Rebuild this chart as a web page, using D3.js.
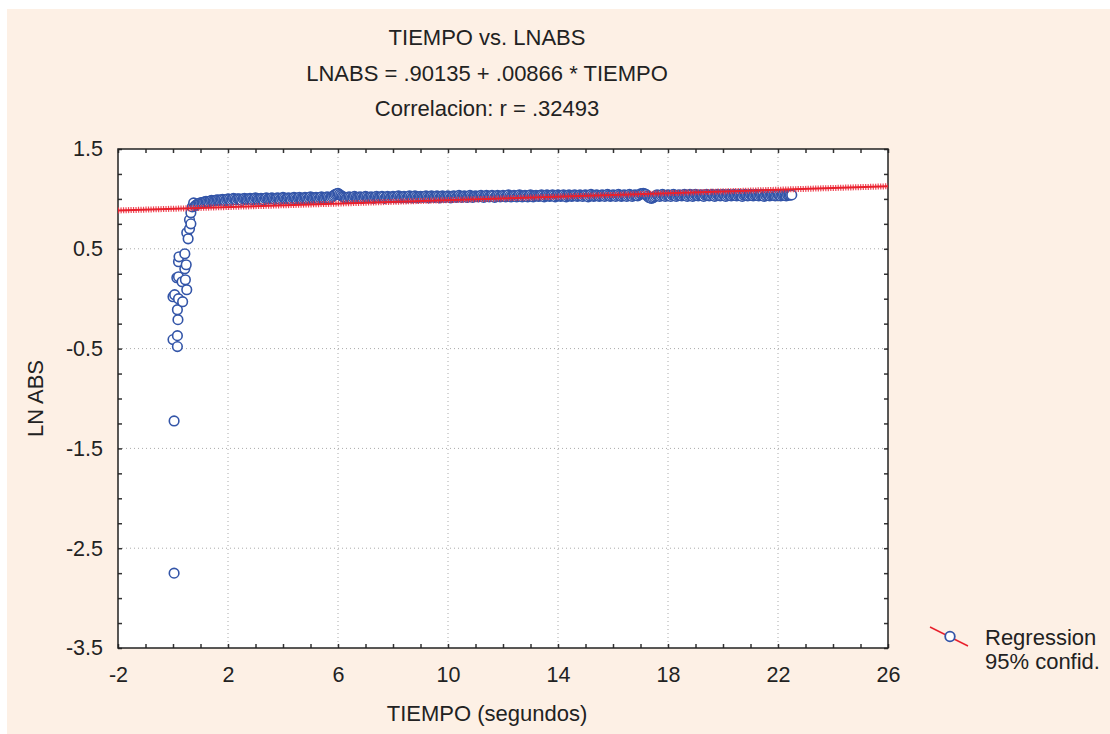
<!DOCTYPE html>
<html>
<head>
<meta charset="utf-8">
<script src="https://cdn.jsdelivr.net/npm/d3@7"></script>
<style>
  body { margin: 0; background: #fff; }
  text { font-family: "Liberation Sans", Arial, sans-serif; fill: #222; }
</style>
</head>
<body>
<div id="chart-area"></div>
<script>
// titles
const titleLines = ['TIEMPO vs. LNABS', 'LNABS = .90135 + .00866 * TIEMPO', 'Correlacion: r = .32493'];
const xLabel = 'TIEMPO (segundos)';
const yLabel = 'LN ABS';
const legendLabels = ['Regression', '95% confid.'];

// axis ticks
const xTicks = [-2, 2, 6, 10, 14, 18, 22, 26];
const yTicks = [1.5, 0.5, -0.5, -1.5, -2.5, -3.5];

// regression coefficients
const intercept = 0.90135;
const slope = 0.00866;

// first seconds (scattered points)
const tiempoInicio = [0.04, 0.04, 0.0, 0.16, 0.16, 0.18, 0.16, 0.0, 0.06, 0.35, 0.2, 0.14, 0.2, 0.5, 0.45, 0.33,
  0.2, 0.22, 0.43, 0.48, 0.43, 0.5, 0.55, 0.6, 0.65, 0.6, 0.65, 0.7, 0.75];
const lnabsInicio = [-2.75, -1.225, -0.41, -0.48, -0.37, -0.21, -0.11, 0.02, 0.04, -0.03, 0.0, 0.21, 0.22, 0.09, 0.19, 0.17,
  0.37, 0.42, 0.30, 0.34, 0.45, 0.66, 0.6, 0.7, 0.75, 0.79, 0.86, 0.92, 0.96];

// plateau, whole tenths
const tiempoMeseta = [
  0.8, 0.9, 1.0, 1.1, 1.2, 1.3, 1.4, 1.5, 1.6, 1.7,
  1.8, 1.9, 2.0, 2.1, 2.2, 2.3, 2.4, 2.5, 2.6, 2.7,
  2.8, 2.9, 3.0, 3.1, 3.2, 3.3, 3.4, 3.5, 3.6, 3.7,
  3.8, 3.9, 4.0, 4.1, 4.2, 4.3, 4.4, 4.5, 4.6, 4.7,
  4.8, 4.9, 5.0, 5.1, 5.2, 5.3, 5.4, 5.5, 5.6, 5.7,
  5.8, 5.9, 6.0, 6.1, 6.2, 6.3, 6.4, 6.5, 6.6, 6.7,
  6.8, 6.9, 7.0, 7.1, 7.2, 7.3, 7.4, 7.5, 7.6, 7.7,
  7.8, 7.9, 8.0, 8.1, 8.2, 8.3, 8.4, 8.5, 8.6, 8.7,
  8.8, 8.9, 9.0, 9.1, 9.2, 9.3, 9.4, 9.5, 9.6, 9.7,
  9.8, 9.9, 10.0, 10.1, 10.2, 10.3, 10.4, 10.5, 10.6, 10.7,
  10.8, 10.9, 11.0, 11.1, 11.2, 11.3, 11.4, 11.5, 11.6, 11.7,
  11.8, 11.9, 12.0, 12.1, 12.2, 12.3, 12.4, 12.5, 12.6, 12.7,
  12.8, 12.9, 13.0, 13.1, 13.2, 13.3, 13.4, 13.5, 13.6, 13.7,
  13.8, 13.9, 14.0, 14.1, 14.2, 14.3, 14.4, 14.5, 14.6, 14.7,
  14.8, 14.9, 15.0, 15.1, 15.2, 15.3, 15.4, 15.5, 15.6, 15.7,
  15.8, 15.9, 16.0, 16.1, 16.2, 16.3, 16.4, 16.5, 16.6, 16.7,
  16.8, 16.9, 17.0, 17.1, 17.2, 17.3, 17.4, 17.5, 17.6, 17.7,
  17.8, 17.9, 18.0, 18.1, 18.2, 18.3, 18.4, 18.5, 18.6, 18.7,
  18.8, 18.9, 19.0, 19.1, 19.2, 19.3, 19.4, 19.5, 19.6, 19.7,
  19.8, 19.9, 20.0, 20.1, 20.2, 20.3, 20.4, 20.5, 20.6, 20.7,
  20.8, 20.9, 21.0, 21.1, 21.2, 21.3, 21.4, 21.5, 21.6, 21.7,
  21.8, 21.9, 22.0, 22.1, 22.2, 22.3, 22.4, 22.5];
const lnabsMeseta = [
  0.93, 0.95, 0.96, 0.965, 0.975, 0.97, 0.985, 0.98, 0.99, 0.985,
  0.995, 0.98, 1.0, 0.985, 1.005, 0.99, 1.0, 0.985, 1.005, 0.995,
  1.005, 0.99, 1.01, 0.995, 1.005, 0.99, 1.01, 1.0, 1.01, 0.995,
  1.01, 0.995, 1.015, 1.0, 1.01, 0.995, 1.015, 1.0, 1.015, 1.0,
  1.015, 1.0, 1.02, 1.005, 1.015, 1.0, 1.02, 1.005, 1.02, 1.005,
  1.025, 1.045, 1.055, 1.035, 1.02, 1.005, 1.02, 1.005, 1.025, 1.01,
  1.02, 1.005, 1.025, 1.01, 1.02, 1.005, 1.025, 1.01, 1.025, 1.005,
  1.025, 1.01, 1.025, 1.01, 1.03, 1.01, 1.025, 1.01, 1.03, 1.01,
  1.03, 1.01, 1.025, 1.015, 1.03, 1.01, 1.03, 1.015, 1.03, 1.01,
  1.03, 1.015, 1.03, 1.01, 1.03, 1.015, 1.035, 1.015, 1.03, 1.015,
  1.035, 1.015, 1.03, 1.02, 1.035, 1.015, 1.035, 1.02, 1.035, 1.015,
  1.035, 1.02, 1.035, 1.02, 1.04, 1.02, 1.035, 1.02, 1.04, 1.02,
  1.035, 1.02, 1.04, 1.02, 1.035, 1.025, 1.04, 1.02, 1.04, 1.025,
  1.04, 1.02, 1.04, 1.025, 1.04, 1.02, 1.04, 1.025, 1.04, 1.025,
  1.04, 1.025, 1.04, 1.02, 1.045, 1.025, 1.04, 1.025, 1.04, 1.025,
  1.045, 1.025, 1.04, 1.025, 1.045, 1.025, 1.04, 1.025, 1.045, 1.025,
  1.04, 1.03, 1.05, 1.055, 1.045, 1.015, 1.005, 1.02, 1.04, 1.025,
  1.045, 1.025, 1.04, 1.025, 1.045, 1.025, 1.04, 1.03, 1.045, 1.025,
  1.045, 1.025, 1.045, 1.03, 1.04, 1.025, 1.045, 1.03, 1.045, 1.025,
  1.045, 1.03, 1.045, 1.025, 1.045, 1.03, 1.045, 1.03, 1.045, 1.025,
  1.045, 1.03, 1.045, 1.03, 1.045, 1.03, 1.045, 1.025, 1.045, 1.03,
  1.045, 1.03, 1.045, 1.03, 1.045, 1.03, 1.04, 1.04];

// plateau, half tenths
const tiempoMedio = [
  0.85, 0.95, 1.05, 1.15, 1.25, 1.35, 1.45, 1.55, 1.65, 1.75,
  1.85, 1.95, 2.05, 2.15, 2.25, 2.35, 2.45, 2.55, 2.65, 2.75,
  2.85, 2.95, 3.05, 3.15, 3.25, 3.35, 3.45, 3.55, 3.65, 3.75,
  3.85, 3.95, 4.05, 4.15, 4.25, 4.35, 4.45, 4.55, 4.65, 4.75,
  4.85, 4.95, 5.05, 5.15, 5.25, 5.35, 5.45, 5.55, 5.65, 5.75,
  5.85, 5.95, 6.05, 6.15, 6.25, 6.35, 6.45, 6.55, 6.65, 6.75,
  6.85, 6.95, 7.05, 7.15, 7.25, 7.35, 7.45, 7.55, 7.65, 7.75,
  7.85, 7.95, 8.05, 8.15, 8.25, 8.35, 8.45, 8.55, 8.65, 8.75,
  8.85, 8.95, 9.05, 9.15, 9.25, 9.35, 9.45, 9.55, 9.65, 9.75,
  9.85, 9.95, 10.05, 10.15, 10.25, 10.35, 10.45, 10.55, 10.65, 10.75,
  10.85, 10.95, 11.05, 11.15, 11.25, 11.35, 11.45, 11.55, 11.65, 11.75,
  11.85, 11.95, 12.05, 12.15, 12.25, 12.35, 12.45, 12.55, 12.65, 12.75,
  12.85, 12.95, 13.05, 13.15, 13.25, 13.35, 13.45, 13.55, 13.65, 13.75,
  13.85, 13.95, 14.05, 14.15, 14.25, 14.35, 14.45, 14.55, 14.65, 14.75,
  14.85, 14.95, 15.05, 15.15, 15.25, 15.35, 15.45, 15.55, 15.65, 15.75,
  15.85, 15.95, 16.05, 16.15, 16.25, 16.35, 16.45, 16.55, 16.65, 16.75,
  16.85, 16.95, 17.05, 17.15, 17.25, 17.35, 17.45, 17.55, 17.65, 17.75,
  17.85, 17.95, 18.05, 18.15, 18.25, 18.35, 18.45, 18.55, 18.65, 18.75,
  18.85, 18.95, 19.05, 19.15, 19.25, 19.35, 19.45, 19.55, 19.65, 19.75,
  19.85, 19.95, 20.05, 20.15, 20.25, 20.35, 20.45, 20.55, 20.65, 20.75,
  20.85, 20.95, 21.05, 21.15, 21.25, 21.35, 21.45, 21.55, 21.65, 21.75,
  21.85, 21.95, 22.05, 22.15, 22.25, 22.35, 22.45];
const lnabsMedio = [
  0.94, 0.955, 0.962, 0.97, 0.972, 0.978, 0.982, 0.985, 0.988, 0.99,
  0.99, 0.992, 0.995, 0.995, 0.998, 1.0, 0.995, 1.0, 0.998, 1.0,
  1.0, 1.0, 1.002, 1.0, 1.0, 1.005, 1.0, 1.005, 1.002, 1.005,
  1.005, 1.005, 1.008, 1.005, 1.005, 1.008, 1.008, 1.008, 1.005, 1.008,
  1.01, 1.008, 1.01, 1.012, 1.01, 1.012, 1.01, 1.012, 1.015, 1.015,
  1.035, 1.05, 1.045, 1.025, 1.012, 1.012, 1.015, 1.015, 1.015, 1.015,
  1.015, 1.015, 1.018, 1.015, 1.015, 1.018, 1.015, 1.018, 1.018, 1.015,
  1.018, 1.018, 1.02, 1.018, 1.02, 1.02, 1.018, 1.02, 1.02, 1.02,
  1.02, 1.022, 1.02, 1.022, 1.02, 1.022, 1.022, 1.02, 1.022, 1.022,
  1.022, 1.025, 1.022, 1.022, 1.025, 1.022, 1.025, 1.025, 1.022, 1.025,
  1.025, 1.025, 1.025, 1.028, 1.025, 1.025, 1.028, 1.025, 1.028, 1.025,
  1.028, 1.028, 1.028, 1.03, 1.028, 1.028, 1.03, 1.028, 1.03, 1.03,
  1.03, 1.03, 1.03, 1.032, 1.03, 1.03, 1.032, 1.03, 1.032, 1.032,
  1.032, 1.03, 1.032, 1.032, 1.03, 1.032, 1.032, 1.032, 1.035, 1.032,
  1.032, 1.035, 1.032, 1.032, 1.035, 1.032, 1.035, 1.032, 1.035, 1.035,
  1.035, 1.032, 1.035, 1.035, 1.035, 1.032, 1.035, 1.035, 1.035, 1.035,
  1.035, 1.04, 1.052, 1.05, 1.03, 1.01, 1.012, 1.03, 1.035, 1.035,
  1.035, 1.035, 1.035, 1.038, 1.035, 1.035, 1.035, 1.038, 1.035, 1.035,
  1.038, 1.035, 1.035, 1.038, 1.035, 1.038, 1.035, 1.035, 1.038, 1.035,
  1.038, 1.035, 1.038, 1.035, 1.038, 1.038, 1.035, 1.038, 1.035, 1.038,
  1.038, 1.035, 1.038, 1.038, 1.035, 1.038, 1.038, 1.035, 1.038, 1.038,
  1.038, 1.035, 1.038, 1.038, 1.035, 1.038, 1.038];

const W = 1110, H = 734;
const margins = { left: 118, top: 149, right: 222, bottom: 86 };
const width = W - margins.left - margins.right;
const height = H - margins.top - margins.bottom;

const blue = '#3355a8';
const red = '#e8202c';
const fontFamily = '"Liberation Sans", Arial, sans-serif';

const root = d3.select('#chart-area')
  .append('svg')
  .attr('width', W)
  .attr('height', H);

// peach background
root.append('rect')
  .attr('x', 7).attr('y', 9)
  .attr('width', W - 7).attr('height', H - 9)
  .attr('fill', '#fdf0e5');

const svg = root.append('g')
  .attr('transform', `translate(${margins.left}, ${margins.top})`);

const x = d3.scaleLinear().domain([-2, 26]).range([0, width]);
const y = d3.scaleLinear().domain([-3.5, 1.5]).range([height, 0]);

svg.append('rect')
  .attr('width', width).attr('height', height)
  .attr('fill', '#fff');

// dotted grid
svg.append('g').selectAll('line')
  .data(xTicks.slice(1, -1))
  .join('line')
  .attr('x1', d => x(d)).attr('x2', d => x(d))
  .attr('y1', 0).attr('y2', height)
  .attr('stroke', '#aaa').attr('stroke-dasharray', '1,3');
svg.append('g').selectAll('line')
  .data(yTicks.slice(1, -1))
  .join('line')
  .attr('y1', d => y(d)).attr('y2', d => y(d))
  .attr('x1', 0).attr('x2', width)
  .attr('stroke', '#aaa').attr('stroke-dasharray', '1,3');

// inward ticks on all sides
const xMinor = d3.range(-2, 27, 1);
const yMinor = d3.range(-3.5, 1.51, 0.25);
const tickAxis = (axis, transform) => {
  const g = svg.append('g')
    .attr('transform', transform)
    .call(axis);
  g.select('.domain').remove();
  g.selectAll('line').attr('stroke', '#333').attr('stroke-width', 1.5);
};
tickAxis(d3.axisBottom(x).tickValues(xMinor).tickSize(-4).tickFormat(''), `translate(0, ${height})`);
tickAxis(d3.axisTop(x).tickValues(xMinor).tickSize(-4).tickFormat(''), 'translate(0, 0)');
tickAxis(d3.axisLeft(y).tickValues(yMinor).tickSize(-4).tickFormat(''), 'translate(0, 0)');
tickAxis(d3.axisRight(y).tickValues(yMinor).tickSize(-4).tickFormat(''), `translate(${width}, 0)`);

// tick labels
const xAxisG = svg.append('g')
  .attr('transform', `translate(0, ${height})`)
  .call(d3.axisBottom(x).tickValues(xTicks).tickSize(0).tickPadding(19)
    .tickFormat(d => d));
xAxisG.select('.domain').remove();
xAxisG.selectAll('text').attr('font-size', '21.5px').attr('fill', '#222')
  .style('font-family', fontFamily);

const yAxisG = svg.append('g')
  .call(d3.axisLeft(y).tickValues(yTicks).tickSize(0).tickPadding(15)
    .tickFormat(d => d));
yAxisG.select('.domain').remove();
yAxisG.selectAll('text').attr('font-size', '21.5px').attr('fill', '#222')
  .style('font-family', fontFamily);

// frame
svg.append('rect')
  .attr('width', width).attr('height', height)
  .attr('fill', 'none').attr('stroke', '#222').attr('stroke-width', 1.5);

// points, drawn in time order
const puntos = tiempoInicio.map((t, i) => ({ t: t, v: lnabsInicio[i] }))
  .concat(tiempoMeseta.map((t, i) => ({ t: t, v: lnabsMeseta[i] })))
  .concat(tiempoMedio.map((t, i) => ({ t: t, v: lnabsMedio[i] })))
  .sort((a, b) => a.t - b.t);

svg.append('g').selectAll('circle')
  .data(puntos)
  .join('circle')
  .attr('cx', d => x(d.t))
  .attr('cy', d => y(d.v))
  .attr('r', 4.8)
  .attr('fill', '#fff')
  .attr('stroke', blue)
  .attr('stroke-width', 1.6);

// regression line with confidence hatch
const regLine = [-2, 26].map(t => ({ t: t, v: intercept + slope * t }));
const line = d3.line().x(d => x(d.t)).y(d => y(d.v));
svg.append('path')
  .datum(regLine)
  .attr('d', line)
  .attr('fill', 'none')
  .attr('stroke', '#ee3040')
  .attr('stroke-width', 6)
  .attr('stroke-dasharray', '1.2,1.3')
  .attr('opacity', 0.9);
svg.append('path')
  .datum(regLine)
  .attr('d', line)
  .attr('fill', 'none')
  .attr('stroke', red)
  .attr('stroke-width', 2);

// titles
root.selectAll('.title')
  .data(titleLines)
  .join('text')
  .attr('class', 'title')
  .attr('x', 487)
  .attr('y', (d, i) => 45 + i * 35.5)
  .attr('text-anchor', 'middle')
  .attr('font-size', '22px')
  .text(d => d);

// axis labels
root.append('text')
  .attr('x', 487).attr('y', 721)
  .attr('text-anchor', 'middle')
  .attr('font-size', '22px')
  .text(xLabel);
root.append('text')
  .attr('transform', `translate(43, ${margins.top + height / 2}) rotate(-90)`)
  .attr('text-anchor', 'middle')
  .attr('font-size', '22px')
  .text(yLabel);

// legend
const legend = root.append('g').attr('transform', 'translate(930, 627)');
legend.append('line')
  .attr('x1', 0).attr('y1', 0).attr('x2', 38).attr('y2', 19)
  .attr('stroke', red).attr('stroke-width', 1.5);
legend.append('circle')
  .attr('cx', 20).attr('cy', 9.5).attr('r', 4.8)
  .attr('fill', '#fff').attr('stroke', blue).attr('stroke-width', 1.8);
legend.selectAll('.leg')
  .data(legendLabels)
  .join('text')
  .attr('class', 'leg')
  .attr('x', 55)
  .attr('y', (d, i) => 18 + i * 23.5)
  .attr('font-size', '22px')
  .text(d => d);
</script>
</body>
</html>
